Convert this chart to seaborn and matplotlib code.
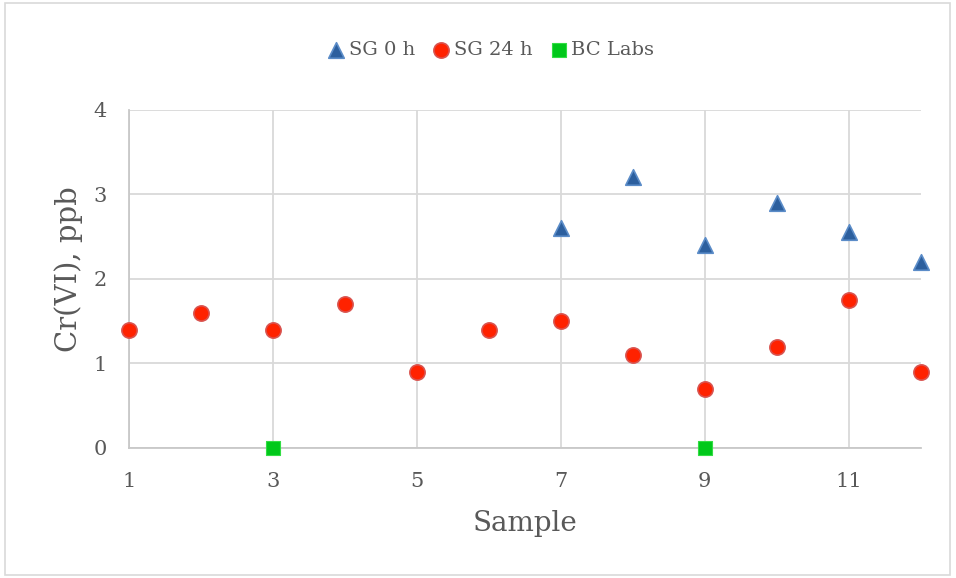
import matplotlib
matplotlib.use("Agg")
import matplotlib.pyplot as plt
import matplotlib.patches as patches
import pandas as pd
import seaborn as sns

# data
samples_0h = [7, 8, 9, 10, 11, 12]
sg_0h = [2.6, 3.2, 2.4, 2.9, 2.55, 2.2]
samples_24h = [1, 2, 3, 4, 5, 6, 7, 8, 9, 10, 11, 12]
sg_24h = [1.4, 1.6, 1.4, 1.7, 0.9, 1.4, 1.5, 1.1, 0.7, 1.2, 1.75, 0.9]
samples_bc = [3, 9]
bc_labs = [0, 0]
x_ticks = [1, 3, 5, 7, 9, 11]
y_ticks = [0, 1, 2, 3, 4]

sns.set_theme(style="white")
plt.rcParams["font.family"] = ["DejaVu Serif"]

df0 = pd.DataFrame({"Sample": samples_0h, "Cr": sg_0h})
df24 = pd.DataFrame({"Sample": samples_24h, "Cr": sg_24h})
dfbc = pd.DataFrame({"Sample": samples_bc, "Cr": bc_labs})

fig = plt.figure(figsize=(9.56, 5.78), dpi=100)
ax = fig.add_axes([0.135, 0.225, 0.828, 0.585])

sns.scatterplot(data=df0, x="Sample", y="Cr", ax=ax, marker="^", s=125,
                color="#2C5F9E", edgecolor="#5B8CC8", linewidth=1.2,
                label="SG 0 h", clip_on=False, zorder=3)
sns.scatterplot(data=df24, x="Sample", y="Cr", ax=ax, marker="o", s=120,
                color="#FF2200", edgecolor="#D9534F", linewidth=1.2,
                label="SG 24 h", clip_on=False, zorder=3)
sns.scatterplot(data=dfbc, x="Sample", y="Cr", ax=ax, marker="s", s=105,
                color="#00C81A", edgecolor="#33DD44", linewidth=0.8,
                label="BC Labs", clip_on=False, zorder=3)

ax.set_xlim(1, 12)
ax.set_ylim(0, 4)
ax.set_xticks(x_ticks)
ax.set_yticks(y_ticks)
ax.grid(True, color="#D9D9D9", linewidth=1.3)
ax.set_axisbelow(True)
for side in ["top", "right"]:
    ax.spines[side].set_visible(False)
for side in ["left", "bottom"]:
    ax.spines[side].set_color("#C8C8C8")
    ax.spines[side].set_linewidth(1.3)
ax.tick_params(axis="both", length=0, labelsize=15, labelcolor="#595959")
ax.tick_params(axis="y", pad=16)
ax.tick_params(axis="x", pad=17)
ax.set_xlabel("Sample", fontsize=20, color="#595959", labelpad=14)
ax.set_ylabel("Cr(VI), ppb", fontsize=21, color="#595959")
ax.yaxis.set_label_coords(-0.058, 0.53)

leg = ax.legend(loc="center", bbox_to_anchor=(0.513, 0.913), bbox_transform=fig.transFigure,
                ncol=3, frameon=False, fontsize=14, handlelength=1.0,
                handletextpad=0.15, columnspacing=0.85, markerscale=1.0)
for t in leg.get_texts():
    t.set_color("#595959")

fig.patches.append(patches.Rectangle((5 / 956, 3 / 578), 945 / 956, 572 / 578,
                                     transform=fig.transFigure, fill=False,
                                     edgecolor="#D9D9D9", linewidth=1.2))

fig.savefig("out.png", dpi=100)
